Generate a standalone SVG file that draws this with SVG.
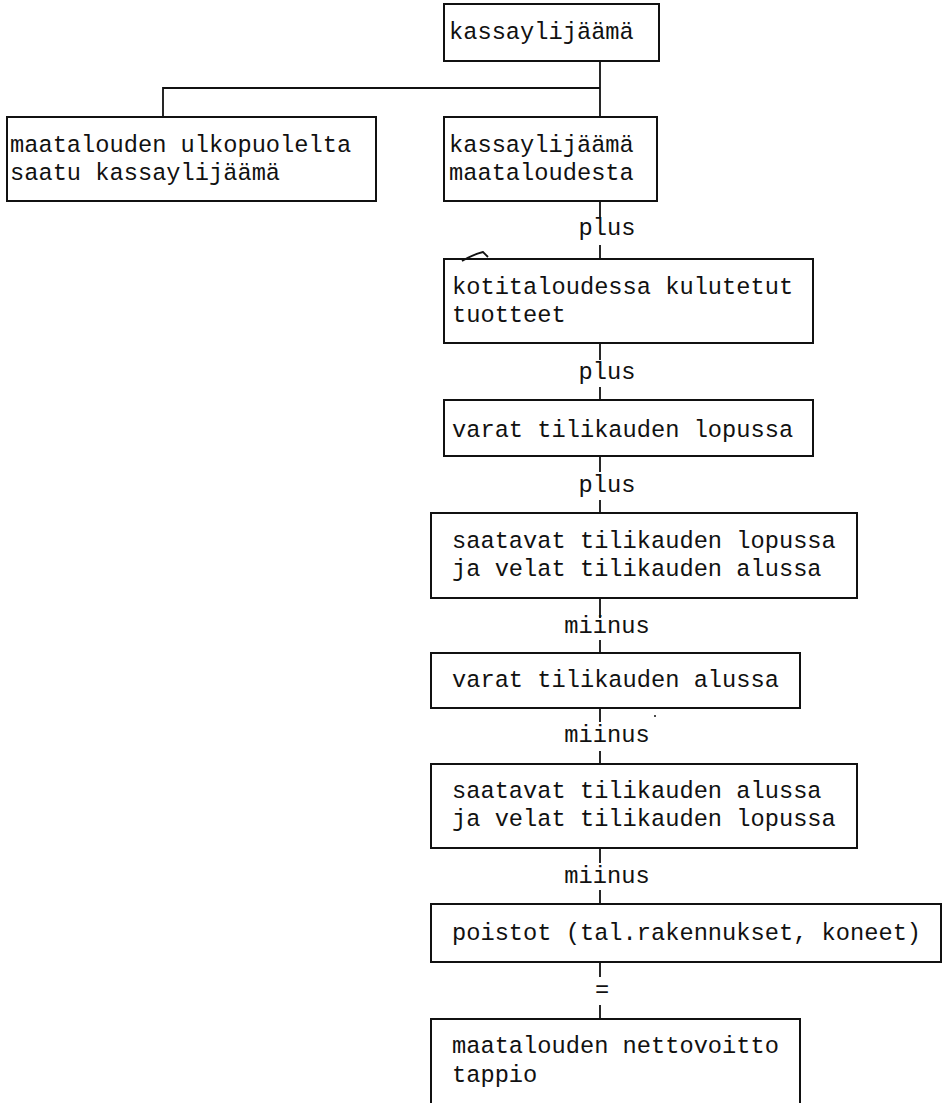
<svg xmlns="http://www.w3.org/2000/svg" width="942" height="1103" viewBox="0 0 942 1103">
<style>
.box{fill:none;stroke:#111;stroke-width:2}
.con{stroke:#111;stroke-width:1.8;fill:none}
.t{font-family:"Liberation Mono","DejaVu Sans Mono",monospace;font-size:23.7px;fill:#111}
.lbl{font-family:"Liberation Mono","DejaVu Sans Mono",monospace;font-size:23.7px;fill:#111;text-anchor:middle}
</style>
<rect width="942" height="1103" fill="#fff"/>
<g id="connectors">
<path class="con" d="M600 61V117M600 88H163V117"/>
<path class="con" d="M600 201V218M600 245V259"/>
<path class="con" d="M600 343V360M600 387V400"/>
<path class="con" d="M600 456V472M600 500V513"/>
<path class="con" d="M600 598V618M600 640V653"/>
<path class="con" d="M600 708V722M600 751V764"/>
<path class="con" d="M600 848V863M600 890V904"/>
<path class="con" d="M600 962V977M600 1005V1019"/>
<text class="lbl" x="607" y="235">plus</text>
<text class="lbl" x="607" y="379">plus</text>
<text class="lbl" x="607" y="492">plus</text>
<text class="lbl" x="607" y="633">miinus</text>
<text class="lbl" x="607" y="742">miinus</text>
<text class="lbl" x="607" y="883">miinus</text>
<text class="lbl" x="602" y="997">=</text>
</g>
<g id="n1">
<rect class="box" x="444" y="4" width="215" height="57"/>
<text class="t" x="449" y="39">kassaylijäämä</text>
</g>
<g id="n2">
<rect class="box" x="7" y="117" width="369" height="84"/>
<text class="t" x="10" y="152">maatalouden ulkopuolelta</text>
<text class="t" x="10" y="180">saatu kassaylijäämä</text>
</g>
<g id="n3">
<rect class="box" x="444" y="117" width="213" height="84"/>
<text class="t" x="449" y="152">kassaylijäämä</text>
<text class="t" x="449" y="180">maataloudesta</text>
</g>
<g id="n4">
<rect class="box" x="444" y="259" width="369" height="84"/>
<text class="t" x="452" y="294">kotitaloudessa kulutetut</text>
<text class="t" x="452" y="322">tuotteet</text>
<path class="con" d="M462 261Q474 254 483 252L488 257" stroke-width="1.5"/>
</g>
<g id="n5">
<rect class="box" x="444" y="400" width="369" height="56"/>
<text class="t" x="452" y="437">varat tilikauden lopussa</text>
</g>
<g id="n6">
<rect class="box" x="431" y="513" width="426" height="85"/>
<text class="t" x="452" y="548">saatavat tilikauden lopussa</text>
<text class="t" x="452" y="576">ja velat tilikauden alussa</text>
</g>
<g id="n7">
<rect class="box" x="431" y="653" width="369" height="55"/>
<text class="t" x="452" y="687">varat tilikauden alussa</text>
<circle cx="655" cy="716" r="1" fill="#111"/>
</g>
<g id="n8">
<rect class="box" x="431" y="764" width="426" height="84"/>
<text class="t" x="452" y="798">saatavat tilikauden alussa</text>
<text class="t" x="452" y="826">ja velat tilikauden lopussa</text>
</g>
<g id="n9">
<rect class="box" x="431" y="904" width="510" height="58"/>
<text class="t" x="452" y="940">poistot (tal.rakennukset, koneet)</text>
</g>
<g id="n10">
<rect class="box" x="431" y="1019" width="369" height="100"/>
<text class="t" x="452" y="1053">maatalouden nettovoitto</text>
<text class="t" x="452" y="1082">tappio</text>
</g>
</svg>
